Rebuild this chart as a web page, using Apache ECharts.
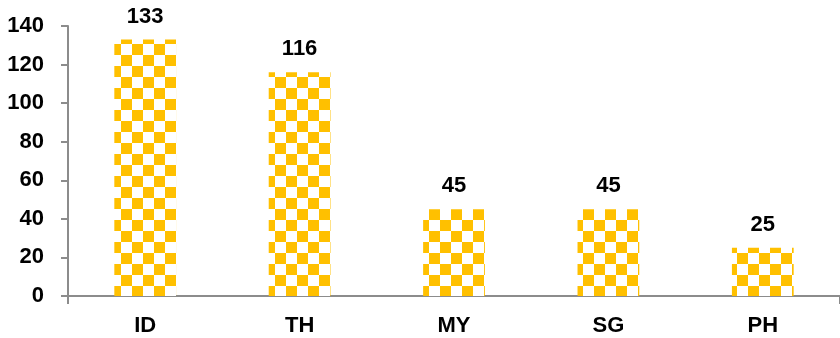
<!DOCTYPE html>
<html>
<head>
<meta charset="utf-8">
<script src="https://cdn.jsdelivr.net/npm/echarts@6/dist/echarts.min.js"></script>
<style>
  html, body { margin: 0; padding: 0; background: #fff; }
  #chart { width: 840px; height: 338px; }
</style>
</head>
<body>
<div id="chart"></div>
<script>
// Country codes and values
const categories = ['ID', 'TH', 'MY', 'SG', 'PH'];
const values = [133, 116, 45, 45, 25];
const yTicks = [0, 20, 40, 60, 80, 100, 120, 140];

// Gold / white checkerboard fill
function checkerPattern(size, color) {
  const c = document.createElement('canvas');
  c.width = size * 2;
  c.height = size * 2;
  const ctx = c.getContext('2d');
  ctx.fillStyle = '#ffffff';
  ctx.fillRect(0, 0, size * 2, size * 2);
  ctx.fillStyle = color;
  ctx.fillRect(0, 0, size, size);
  ctx.fillRect(size, size, size, size);
  return c;
}

const font = "'Liberation Sans Narrow', 'Arial Narrow', 'Liberation Sans', Arial, sans-serif";
const axisGrey = '#8c8c8c';

const chart = echarts.init(document.getElementById('chart'), null, { renderer: 'canvas' });
chart.setOption({
  animation: false,
  grid: { left: 68, top: 26, width: 778, bottom: 42 },
  xAxis: {
    type: 'category',
    data: categories,
    axisLine: { lineStyle: { color: axisGrey, width: 2 } },
    axisTick: {
      show: true,
      length: 8,
      interval: (i) => i === 0,
      lineStyle: { color: axisGrey, width: 2 }
    },
    axisLabel: {
      margin: 19,
      color: '#000',
      fontFamily: font,
      fontWeight: 'bold',
      fontSize: 22
    }
  },
  yAxis: {
    type: 'value',
    min: yTicks[0],
    max: yTicks[yTicks.length - 1],
    interval: yTicks[1] - yTicks[0],
    splitLine: { show: false },
    axisLine: { show: true, lineStyle: { color: axisGrey, width: 2 } },
    axisTick: { show: true, length: 7, lineStyle: { color: axisGrey, width: 2 } },
    axisLabel: {
      margin: 24,
      color: '#000',
      fontFamily: font,
      fontWeight: 'bold',
      fontSize: 22
    }
  },
  series: [{
    type: 'bar',
    data: values,
    barWidth: '40%',
    itemStyle: {
      color: { image: checkerPattern(11, '#FFC000'), repeat: 'repeat' }
    },
    label: {
      show: true,
      position: 'top',
      distance: 12,
      color: '#000',
      fontFamily: font,
      fontWeight: 'bold',
      fontSize: 22
    }
  }]
});
</script>
</body>
</html>
